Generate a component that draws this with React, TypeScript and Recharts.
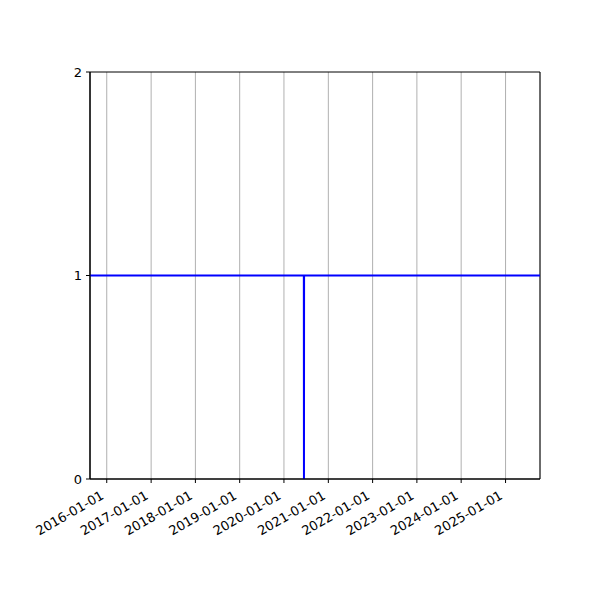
import React from 'react';
import {
  LineChart,
  Line,
  XAxis,
  YAxis,
  CartesianGrid,
  ReferenceArea,
} from 'recharts';

// one sample per date; a single day drops to zero
const dates = ['2015-08-16', '2020-06-13', '2020-06-14', '2020-06-15', '2025-10-12'];
const values = [1, 1, 0, 1, 1];

const xTickDates = [
  '2016-01-01', '2017-01-01', '2018-01-01', '2019-01-01', '2020-01-01',
  '2021-01-01', '2022-01-01', '2023-01-01', '2024-01-01', '2025-01-01',
];
const yTicks = [0, 1, 2];

const toTime = (d: string) => new Date(d + 'T00:00:00Z').getTime();
const fmt = (t: number) => new Date(t).toISOString().slice(0, 10);

const data = dates.map((d, i) => ({ t: toTime(d), v: values[i] }));
const xTicks = xTickDates.map(toTime);
const xDomain = [toTime(dates[0]), toTime(dates[dates.length - 1])];

const FONT = '"DejaVu Sans", sans-serif';

const DateTick = (props: any) => {
  const { x, y, payload } = props;
  const ax = x - 2;
  const ay = y + 13;
  return (
    <text
      x={ax}
      y={ay}
      transform={`rotate(-30, ${ax}, ${ay})`}
      textAnchor="end"
      fontSize={13}
      fontFamily={FONT}
      fill="#000"
    >
      {fmt(payload.value)}
    </text>
  );
};

const App: React.FC = () => {
  return (
    <div style={{ position: 'absolute', left: 0, top: 0, width: 600, height: 600, background: '#fff' }}>
      <LineChart width={600} height={600} data={data} margin={{ top: 72, right: 60, left: 60, bottom: 61 }}>
        <CartesianGrid horizontal={false} stroke="#b0b0b0" strokeWidth={1} />
        <XAxis
          dataKey="t"
          type="number"
          scale="time"
          domain={xDomain}
          ticks={xTicks}
          interval={0}
          tick={<DateTick />}
          tickSize={4}
          height={60}
          stroke="#000"
          allowDataOverflow
        />
        <YAxis
          type="number"
          domain={[0, 2]}
          ticks={yTicks}
          interval={0}
          tickSize={4}
          tickMargin={4}
          width={30}
          stroke="#000"
          tick={{ fill: '#000', fontSize: 13, fontFamily: FONT }}
        />
        <ReferenceArea x1={xDomain[0]} x2={xDomain[1]} y1={0} y2={2} fill="none" stroke="#000" strokeWidth={1} />
        <Line
          dataKey="v"
          type="linear"
          stroke="#0000ff"
          strokeWidth={2}
          dot={false}
          isAnimationActive={false}
        />
      </LineChart>
    </div>
  );
};

export default App;
